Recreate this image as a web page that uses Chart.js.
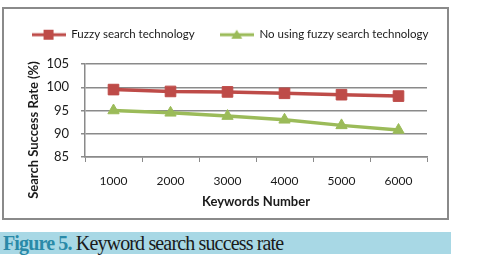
<!DOCTYPE html>
<html>
<head>
<meta charset="utf-8">
<script src="https://cdn.jsdelivr.net/npm/chart.js@4/dist/chart.umd.min.js"></script>
<style>
  html, body { margin: 0; padding: 0; background: #fff; }
  body { width: 477px; height: 258px; position: relative; overflow: hidden; }
  #frame { position: absolute; left: 2px; top: 7px; width: 443px; height: 209px; border: 2px solid #8a8a8a; }
  #wrap { position: absolute; left: 0; top: 0; width: 477px; height: 225px; }
  #caption {
    position: absolute; left: 0; top: 232px; width: 451px; height: 22px;
    background: #a8d8e5; font-family: "Liberation Serif", "DejaVu Serif", serif;
    font-size: 20px; line-height: 22px; letter-spacing: -0.85px; color: #1a1a1a; padding-left: 3px;
    box-sizing: border-box; white-space: nowrap;
  }
  #caption b { color: #2a8aa8; font-weight: bold; }
</style>
</head>
<body>
<div id="frame"></div>
<div id="wrap"><canvas id="chart" width="477" height="225"></canvas></div>
<div id="caption"><b>Figure 5.</b> Keyword search success rate</div>
<script>
// values
const keywords = ['1000', '2000', '3000', '4000', '5000', '6000'];
const fuzzyRate = [99.5, 99.1, 99.0, 98.7, 98.4, 98.1];
const plainRate = [95.0, 94.5, 93.8, 93.0, 91.8, 90.8];
const yTicks = [85, 90, 95, 100, 105];

const red = '#be4b48';
const green = '#9bbb59';
const font = '"Lato", "Open Sans", sans-serif';

// legend swatch: short line with the marker on it
function swatch(color, shape) {
    const c = document.createElement('canvas');
    c.width = 34; c.height = 12;
    const g = c.getContext('2d');
    g.strokeStyle = color; g.lineWidth = 3;
    g.beginPath(); g.moveTo(0, 6); g.lineTo(34, 6); g.stroke();
    g.fillStyle = color;
    if (shape === 'rect') {
        g.fillRect(12, 1, 10, 10);
    } else {
        g.beginPath(); g.moveTo(17, 1); g.lineTo(22.5, 10); g.lineTo(11.5, 10); g.closePath(); g.fill();
    }
    return c;
}

// y axis title, centred like the original rather than on the plot area
const yTitle = {
    id: 'yTitle',
    afterDraw(chart) {
        const ctx = chart.ctx;
        ctx.save();
        ctx.translate(34, 130);
        ctx.rotate(-Math.PI / 2);
        ctx.font = 'bold 13px ' + font;
        ctx.fillStyle = '#1a1a1a';
        ctx.textAlign = 'center';
        ctx.textBaseline = 'middle';
        ctx.fillText('Search Success Rate (%)', 0, 0);
        ctx.restore();
    }
};

// one legend row, spread across the frame, with room down to the plot top
const legendRow = {
    id: 'legendRow',
    beforeInit(chart) {
        const fit = chart.legend.fit;
        chart.legend.fit = function () {
            this.maxWidth = 470;
            fit.call(this);
            this.height = 60;
        };
    },
    afterLayout(chart) {
        chart.legend.left = 0;
        chart.legend.right = 460;
        chart.legend.width = 460;
    }
};

new Chart(document.getElementById('chart'), {
    type: 'line',
    data: {
        labels: keywords,
        datasets: [{
            label: 'Fuzzy search technology',
            data: fuzzyRate,
            borderColor: red,
            backgroundColor: red,
            borderWidth: 3.5,
            pointStyle: 'rect',
            pointRadius: 7.5,
            pointBorderWidth: 1,
            pointBackgroundColor: red,
            pointBorderColor: red,
            tension: 0
        }, {
            label: 'No using fuzzy search technology',
            data: plainRate,
            borderColor: green,
            backgroundColor: green,
            borderWidth: 3.5,
            pointStyle: 'triangle',
            pointRadius: 6.5,
            pointBorderWidth: 1,
            pointBackgroundColor: green,
            pointBorderColor: green,
            tension: 0
        }]
    },
    options: {
        responsive: false,
        animation: false,
        layout: { padding: { left: 22, right: 50, top: 4, bottom: 11 } },
        plugins: {
            legend: {
                position: 'top',
                labels: {
                    usePointStyle: true,
                    pointStyleWidth: 34,
                    padding: 25,
                    color: '#1a1a1a',
                    font: { family: font, size: 11.5 },
                    generateLabels(chart) {
                        return chart.data.datasets.map((ds, i) => ({
                            text: ds.label,
                            pointStyle: swatch(ds.borderColor, ds.pointStyle),
                            fillStyle: ds.borderColor,
                            strokeStyle: ds.borderColor,
                            lineWidth: 0,
                            hidden: false,
                            datasetIndex: i,
                            fontColor: '#1a1a1a'
                        }));
                    }
                }
            },
            tooltip: { enabled: false }
        },
        scales: {
            x: {
                offset: true,
                grid: { offset: true, drawOnChartArea: false, drawTicks: true, tickLength: 5, color: '#8a8a8a' },
                border: { color: '#8a8a8a', width: 1.5 },
                ticks: { padding: 12, color: '#1a1a1a', font: { family: font, size: 12 } },
                title: {
                    display: true, text: 'Keywords Number', color: '#1a1a1a',
                    font: { family: font, size: 13, weight: 'bold' }, padding: { top: 0, bottom: 4 }
                },
                afterFit(scale) { scale.height = 57; }
            },
            y: {
                min: yTicks[0],
                max: yTicks[yTicks.length - 1],
                afterBuildTicks(scale) { scale.ticks = yTicks.map(v => ({ value: v })); },
                grid: { color: '#8a8a8a', lineWidth: 1.5, tickLength: 4 },
                border: { color: '#8a8a8a', width: 1.5 },
                ticks: { padding: 12, color: '#1a1a1a', font: { family: font, size: 13 } },
                afterFit(scale) { scale.width = 85 - 22; }
            }
        }
    },
    plugins: [yTitle, legendRow]
});
</script>
</body>
</html>
